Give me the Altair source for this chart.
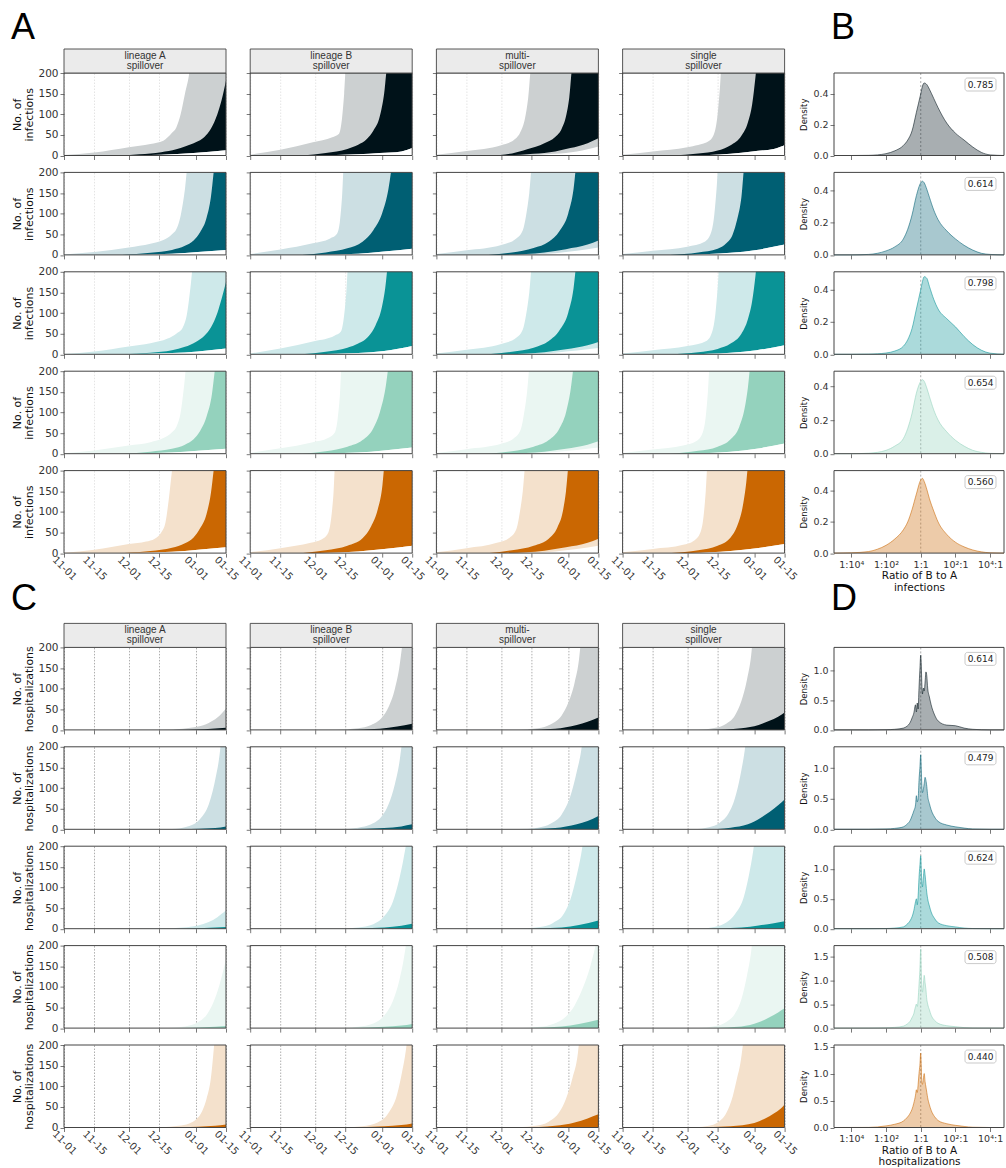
import altair as alt
import pandas as pd

# ---------------------------------------------------------------- data
ROW_DARK = ["#001219", "#005f73", "#0a9396", "#94d2bd", "#ca6702"]
ROW_LIGHT = ["#ccd0d1", "#ccdfe3", "#cee9ea", "#eaf6f2", "#f4e1cc"]
COLUMN_HEADERS = [["lineage A", "spillover"], ["lineage B", "spillover"],
                  ["multi-", "spillover"], ["single", "spillover"]]

TICK_DAYS = [0, 14, 30, 44, 61, 75]
TICK_LABELS = ["11-01", "11-15", "12-01", "12-15", "01-01", "01-15"]
COUNT_TICKS = [0, 50, 100, 150, 200]
RATIO_TICKS = [-4, -2, 0, 2, 4]
RATIO_LABELS = ["1:10⁴", "1:10²", "1:1", "10²:1", "10⁴:1"]

# infections: [day, count] points per row (colour) and column (scenario)
INF_LIGHT_TOP = [
    [[[0, 1], [14, 7], [30, 20], [40, 28], [46, 36], [50, 55], [52, 68], [54, 100], [56, 150], [58, 200], [60, 300], [75, 350]],
     [[0, 2], [14, 14], [29, 32], [38, 44], [41, 52], [42.5, 90], [43.5, 150], [44.5, 230], [75, 350]],
     [[0, 2], [14, 11], [30, 25], [36, 38], [39, 58], [41, 90], [42.5, 140], [44, 220], [75, 350]],
     [[0, 2], [14, 10], [30, 20], [40, 35], [42.5, 55], [44, 100], [45, 160], [46, 230], [75, 350]]],
    [[[0, 1], [14, 7], [30, 18], [40, 27], [46, 36], [50, 50], [52, 62], [54, 95], [56, 160], [57.5, 230], [75, 400]],
     [[0, 2], [14, 13], [29, 28], [37, 40], [40, 50], [41.5, 80], [42.5, 140], [43.5, 230], [75, 400]],
     [[0, 2], [14, 11], [30, 24], [37, 40], [40, 60], [41.5, 95], [43, 150], [44.5, 230], [75, 400]],
     [[0, 2], [14, 10], [30, 20], [38, 32], [41, 55], [42.5, 100], [43.5, 160], [44.5, 230], [75, 400]]],
    [[[0, 1], [14, 7], [30, 19], [40, 27], [48, 38], [52, 50], [55, 65], [57, 100], [58.5, 160], [60, 230], [75, 400]],
     [[0, 2], [14, 14], [30, 32], [39, 45], [42, 55], [43.5, 95], [44.5, 150], [45.5, 230], [75, 400]],
     [[0, 2], [14, 11], [30, 25], [37, 40], [40, 60], [41.5, 95], [43, 150], [44.5, 230], [75, 400]],
     [[0, 2], [14, 10], [30, 20], [39, 33], [41.5, 55], [43, 100], [44, 160], [45, 230], [75, 400]]],
    [[[0, 1], [14, 8], [30, 20], [40, 28], [46, 38], [50, 52], [52, 65], [54, 100], [55.5, 160], [57, 230], [75, 400]],
     [[0, 2], [14, 13], [29, 28], [36, 38], [39, 50], [40.5, 85], [41.5, 140], [42.5, 230], [75, 400]],
     [[0, 2], [14, 11], [30, 24], [36, 38], [39, 58], [40.5, 95], [42, 150], [43.5, 230], [75, 400]],
     [[0, 2], [14, 10], [28, 20], [34, 30], [37, 50], [38.5, 90], [39.5, 150], [40.5, 230], [75, 400]]],
    [[[0, 1], [14, 8], [30, 22], [38, 28], [42, 35], [45, 50], [47, 75], [48.5, 130], [50, 200], [51.5, 260], [75, 400]],
     [[0, 2], [14, 12], [28, 25], [33, 33], [36, 48], [37.5, 85], [38.5, 140], [39.5, 230], [75, 400]],
     [[0, 2], [14, 12], [28, 25], [34, 38], [37, 58], [38.5, 95], [40, 150], [41.5, 230], [75, 400]],
     [[0, 2], [14, 10], [28, 20], [33, 30], [36, 50], [37.5, 90], [38.5, 150], [39.5, 230], [75, 400]]],
]
INF_DARK_TOP = [
    [[[26, 0], [35, 3], [45, 8], [52, 15], [56, 22], [61, 32], [65, 45], [68, 65], [71, 100], [73, 135], [75, 182]],
     [[24, 0], [35, 6], [45, 16], [50, 26], [54, 40], [57, 60], [60, 95], [62, 150], [63.5, 220], [75, 350]],
     [[25, 0], [35, 5], [42, 15], [50, 30], [55, 45], [58, 65], [60, 95], [61.5, 140], [63, 220], [75, 350]],
     [[23, 0], [35, 5], [44, 12], [50, 25], [55, 48], [58, 80], [60, 125], [61.5, 190], [62.5, 240], [75, 350]]],
    [[[27, 0], [40, 5], [50, 12], [56, 22], [60, 35], [63, 55], [66, 90], [68, 140], [69.5, 210], [75, 400]],
     [[24, 0], [35, 6], [45, 16], [52, 32], [57, 60], [61, 100], [64, 160], [66, 230], [75, 400]],
     [[24, 0], [35, 6], [45, 17], [52, 32], [57, 58], [61, 100], [63.5, 160], [65, 230], [75, 400]],
     [[22, 0], [35, 6], [44, 15], [48, 28], [51, 50], [53, 85], [55, 140], [56.5, 220], [75, 400]]],
    [[[27, 0], [40, 4], [50, 10], [56, 18], [61, 30], [65, 45], [68, 65], [71, 100], [73, 135], [75, 175]],
     [[24, 0], [35, 6], [45, 16], [50, 26], [55, 45], [58, 70], [61, 115], [62.5, 160], [64, 230], [75, 400]],
     [[24, 0], [35, 6], [45, 16], [52, 32], [57, 58], [61, 100], [63.5, 160], [65, 230], [75, 400]],
     [[22, 0], [35, 5], [44, 13], [50, 26], [55, 50], [58, 85], [60, 130], [61.5, 190], [62.5, 240], [75, 400]]],
    [[[27, 0], [40, 5], [50, 12], [56, 22], [60, 35], [63, 55], [66, 90], [68.5, 145], [70, 210], [75, 400]],
     [[24, 0], [35, 6], [45, 17], [52, 33], [57, 62], [60, 100], [62.5, 155], [64.5, 230], [75, 400]],
     [[24, 0], [35, 6], [45, 17], [52, 33], [57, 62], [60, 100], [62, 150], [64, 230], [75, 400]],
     [[22, 0], [35, 7], [44, 17], [50, 35], [54, 65], [56.5, 110], [58, 160], [59.5, 230], [75, 400]]],
    [[[27, 0], [40, 5], [50, 13], [56, 24], [60, 38], [63, 60], [66, 95], [68, 145], [69.5, 210], [75, 400]],
     [[24, 0], [35, 7], [45, 18], [52, 36], [56, 65], [59, 105], [61, 155], [62.5, 230], [75, 400]],
     [[24, 0], [35, 7], [45, 18], [52, 35], [56, 62], [58.5, 100], [60, 150], [61.5, 230], [75, 400]],
     [[22, 0], [35, 7], [44, 18], [50, 38], [53, 65], [55.5, 110], [57, 160], [58.5, 230], [75, 400]]],
]
INF_DARK_LOW = [
    [[[26, 0], [45, 2], [60, 6], [75, 13]], [[30, 0], [50, 3], [60, 6], [70, 10], [75, 18]],
     [[30, 0], [45, 4], [55, 10], [62, 18], [70, 30], [75, 42]], [[30, 0], [50, 4], [60, 10], [70, 16], [75, 25]]],
    [[[27, 0], [50, 3], [62, 7], [75, 12]], [[30, 0], [50, 3], [62, 8], [75, 15]],
     [[30, 0], [50, 6], [60, 14], [70, 25], [75, 35]], [[30, 0], [50, 5], [62, 12], [75, 25]]],
    [[[27, 0], [50, 3], [62, 7], [75, 14]], [[30, 0], [50, 3], [62, 8], [75, 20]],
     [[30, 0], [50, 5], [60, 12], [70, 22], [75, 30]], [[30, 0], [50, 4], [62, 10], [75, 22]]],
    [[[27, 0], [50, 3], [62, 7], [75, 12]], [[30, 0], [50, 3], [62, 8], [75, 15]],
     [[30, 0], [50, 5], [60, 12], [70, 22], [75, 30]], [[30, 0], [50, 5], [62, 12], [75, 25]]],
    [[[27, 0], [50, 3], [62, 8], [75, 14]], [[30, 0], [50, 4], [62, 10], [75, 18]],
     [[30, 0], [50, 6], [60, 14], [70, 25], [75, 35]], [[30, 0], [50, 5], [62, 12], [75, 22]]],
]
INF_LIGHT_LOW = [
    [INF_DARK_LOW[0][0], INF_DARK_LOW[0][1], [[40, 0], [55, 4], [65, 10], [75, 22]], INF_DARK_LOW[0][3]],
    [INF_DARK_LOW[1][0], INF_DARK_LOW[1][1], [[40, 0], [55, 4], [65, 10], [75, 18]], INF_DARK_LOW[1][3]],
    [INF_DARK_LOW[2][0], INF_DARK_LOW[2][1], [[40, 0], [55, 4], [65, 9], [75, 15]], INF_DARK_LOW[2][3]],
    [INF_DARK_LOW[3][0], INF_DARK_LOW[3][1], [[40, 0], [55, 4], [65, 9], [75, 15]], INF_DARK_LOW[3][3]],
    [INF_DARK_LOW[4][0], INF_DARK_LOW[4][1], [[40, 0], [55, 4], [65, 10], [75, 18]], INF_DARK_LOW[4][3]],
]

# hospitalizations: [day, count]
HOSP_LIGHT_TOP = [
    [[[0, 0], [45, 0.5], [55, 3], [62, 8], [67, 17], [71, 30], [73, 40], [75, 52]],
     [[0, 0], [40, 0.5], [50, 4], [56, 12], [61, 30], [64, 55], [67, 100], [69, 150], [70.5, 210], [75, 400]],
     [[0, 0], [38, 0.5], [47, 4], [53, 14], [58, 35], [61, 65], [64, 115], [66, 170], [67, 220], [75, 400]],
     [[0, 0], [35, 0.5], [43, 5], [48, 15], [52, 35], [55, 70], [57.5, 120], [59.5, 180], [60.5, 230], [75, 400]]],
    [[[0, 0], [50, 1], [58, 8], [63, 25], [67, 60], [70, 120], [72, 180], [73, 230], [75, 400]],
     [[0, 0], [42, 0.5], [50, 4], [56, 12], [61, 32], [64, 60], [67, 110], [69, 160], [70.5, 220], [75, 400]],
     [[0, 0], [38, 0.5], [47, 4], [53, 14], [58, 36], [62, 80], [65, 140], [67, 190], [68, 230], [75, 400]],
     [[0, 0], [33, 0.5], [40, 5], [45, 16], [49, 38], [52, 75], [54.5, 130], [56.5, 190], [57.5, 230], [75, 400]]],
    [[[0, 0], [45, 0.5], [55, 3], [62, 8], [67, 16], [71, 28], [73, 36], [75, 45]],
     [[0, 0], [42, 0.5], [50, 3], [57, 11], [62, 30], [66, 65], [69, 120], [71, 170], [72.5, 220], [75, 400]],
     [[0, 0], [40, 0.5], [48, 4], [54, 14], [59, 36], [62, 70], [65, 130], [67, 180], [68.5, 230], [75, 400]],
     [[0, 0], [35, 0.5], [43, 5], [48, 15], [52, 35], [56, 75], [58.5, 130], [60.5, 190], [61.5, 230], [75, 400]]],
    [[[0, 0], [48, 0.5], [56, 4], [62, 14], [66, 32], [69, 60], [72, 105], [74, 145], [75, 165]],
     [[0, 0], [42, 0.5], [50, 3], [57, 11], [62, 30], [66, 65], [69, 115], [71, 165], [72.5, 220], [75, 400]],
     [[0, 0], [40, 0.5], [48, 3], [54, 10], [60, 28], [64, 55], [68, 100], [71, 145], [73, 185], [75, 230]],
     [[0, 0], [35, 0.5], [43, 5], [48, 15], [52, 35], [55, 70], [57.5, 125], [59.5, 185], [60.5, 230], [75, 400]]],
    [[[0, 0], [45, 0.5], [53, 4], [58, 10], [61, 19], [64, 40], [66, 70], [68, 120], [69.5, 200], [70.5, 260], [75, 400]],
     [[0, 0], [44, 0.5], [52, 3], [59, 12], [64, 35], [68, 80], [70.5, 140], [72, 185], [73, 230], [75, 400]],
     [[0, 0], [38, 0.5], [46, 4], [52, 14], [57, 38], [60, 70], [63, 120], [65.5, 180], [66.5, 230], [75, 400]],
     [[0, 0], [34, 0.5], [40, 4], [44, 12], [48, 35], [51, 76], [53, 120], [54.5, 155], [55.8, 205], [57, 260], [75, 400]]],
]
HOSP_DARK_TOP = [
    [[[50, 0], [65, 1.5], [75, 5]], [[45, 0], [60, 3], [68, 8], [75, 15]],
     [[42, 0], [55, 3], [65, 12], [70, 20], [75, 30]], [[40, 0], [55, 4], [63, 12], [68, 22], [72, 32], [75, 42]]],
    [[[55, 0], [70, 3], [75, 7]], [[45, 0], [62, 3], [70, 7], [75, 12]],
     [[42, 0], [55, 3], [65, 12], [70, 20], [75, 32]], [[38, 0], [50, 4], [58, 12], [64, 28], [68, 42], [72, 58], [75, 72]]],
    [[[50, 0], [65, 1.5], [75, 4]], [[45, 0], [62, 3], [70, 7], [75, 12]],
     [[42, 0], [58, 3], [66, 9], [75, 20]], [[40, 0], [55, 3], [63, 8], [70, 13], [75, 18]]],
    [[[52, 0], [65, 2], [75, 5]], [[45, 0], [62, 3], [70, 6], [75, 10]],
     [[42, 0], [58, 4], [66, 10], [75, 20]], [[40, 0], [55, 4], [63, 14], [68, 26], [72, 38], [75, 48]]],
    [[[48, 0], [62, 2], [70, 4], [75, 7]], [[46, 0], [62, 3], [70, 6], [75, 10]],
     [[40, 0], [55, 4], [64, 12], [70, 22], [75, 32]], [[34, 0], [50, 3], [61, 11], [66, 22], [70, 34], [73, 45], [75, 56]]],
]

# log10 ratio of lineage B to lineage A, kernel densities
INF_RATIO = [-5, -4, -3, -2.5, -2, -1.5, -1, -0.75, -0.5, -0.25, 0, 0.1, 0.2, 0.35, 0.5, 0.75, 1, 1.5, 2, 2.5, 3, 3.5, 4, 4.8]
INF_DENSITY = [
    [0, 0, 0.001, 0.004, 0.012, 0.03, 0.065, 0.1, 0.16, 0.28, 0.40, 0.45, 0.47, 0.46, 0.43, 0.37, 0.31, 0.21, 0.145, 0.1, 0.055, 0.02, 0.004, 0],
    [0, 0, 0.003, 0.01, 0.025, 0.05, 0.1, 0.16, 0.25, 0.37, 0.45, 0.46, 0.45, 0.41, 0.36, 0.28, 0.22, 0.15, 0.1, 0.06, 0.03, 0.01, 0.003, 0],
    [0, 0, 0.001, 0.003, 0.008, 0.02, 0.05, 0.09, 0.16, 0.28, 0.40, 0.45, 0.48, 0.47, 0.42, 0.34, 0.28, 0.22, 0.17, 0.11, 0.06, 0.025, 0.007, 0],
    [0, 0, 0.003, 0.008, 0.02, 0.045, 0.09, 0.15, 0.24, 0.36, 0.43, 0.44, 0.43, 0.39, 0.34, 0.26, 0.2, 0.13, 0.08, 0.045, 0.02, 0.008, 0.002, 0],
    [0, 0.002, 0.01, 0.025, 0.05, 0.09, 0.15, 0.2, 0.28, 0.38, 0.47, 0.48, 0.46, 0.41, 0.35, 0.27, 0.2, 0.12, 0.07, 0.04, 0.02, 0.008, 0.002, 0],
]
INF_OVERLAP = ["0.785", "0.614", "0.798", "0.654", "0.560"]
INF_DENSITY_TOP = [0.535, 0.515, 0.51, 0.49, 0.53]

HOSP_RATIO = [-5, -3, -2, -1.5, -1, -0.8, -0.6, -0.5, -0.4, -0.3, -0.25, -0.2, -0.15, -0.1, -0.05, 0, 0.03, 0.06,
              0.1, 0.15, 0.2, 0.25, 0.3, 0.35, 0.4, 0.5, 0.6, 0.8, 1, 1.5, 2, 2.5, 3, 4, 4.8]
HOSP_DENSITY = [
    [0, 0, 0.003, 0.01, 0.03, 0.06, 0.13, 0.2, 0.28, 0.42, 0.3, 0.45, 0.35, 0.7, 1.0, 1.25, 1.1, 0.8, 0.6, 0.7, 0.65, 0.8, 0.97, 0.9, 0.7, 0.55, 0.42, 0.25, 0.15, 0.08, 0.07, 0.03, 0.01, 0, 0],
    [0, 0, 0.005, 0.015, 0.04, 0.08, 0.15, 0.22, 0.3, 0.4, 0.55, 0.45, 0.5, 0.8, 1.0, 1.22, 1.0, 0.75, 0.6, 0.65, 0.75, 0.85, 0.8, 0.7, 0.55, 0.42, 0.32, 0.2, 0.13, 0.07, 0.04, 0.02, 0.005, 0, 0],
    [0, 0, 0.003, 0.01, 0.03, 0.07, 0.14, 0.2, 0.3, 0.45, 0.5, 0.4, 0.55, 0.85, 1.05, 1.22, 1.0, 0.8, 0.7, 0.85, 1.0, 0.9, 0.75, 0.6, 0.5, 0.38, 0.28, 0.17, 0.1, 0.05, 0.03, 0.01, 0.003, 0, 0],
    [0, 0, 0.005, 0.015, 0.04, 0.08, 0.15, 0.22, 0.3, 0.45, 0.5, 0.45, 0.6, 0.9, 1.2, 1.65, 1.2, 0.9, 0.75, 0.9, 1.1, 0.95, 0.8, 0.6, 0.5, 0.38, 0.27, 0.16, 0.1, 0.05, 0.03, 0.01, 0.003, 0, 0],
    [0, 0.002, 0.03, 0.06, 0.12, 0.18, 0.27, 0.34, 0.45, 0.6, 0.7, 0.65, 0.8, 1.0, 1.15, 1.38, 1.15, 0.85, 0.8, 0.9, 1.0, 0.85, 0.75, 0.65, 0.55, 0.42, 0.32, 0.2, 0.13, 0.07, 0.04, 0.02, 0.005, 0, 0],
]
HOSP_OVERLAP = ["0.614", "0.479", "0.624", "0.508", "0.440"]
HOSP_DENSITY_TOP = [1.38, 1.35, 1.38, 1.72, 1.53]
HOSP_DENSITY_TICKS = [[0, 0.5, 1.0], [0, 0.5, 1.0], [0, 0.5, 1.0], [0, 0.5, 1.0, 1.5], [0, 0.5, 1.0, 1.5]]

# ---------------------------------------------------------------- layout
W_TS, H = 162, 82.5
W_DEN = 170
W_GAP_COL = 1                  # narrow empty column before the density panels
COL_GAP, ROW_GAP = 24.2, 16.4
SECTION_SPACER = 60.9          # extra row between the infection and hospitalization blocks
TEXT_FONT = "DejaVu Sans"
HEAD_FONT = "Liberation Sans"


def label_expr(values, labels):
    expr = "''"
    for v, lab in reversed(list(zip(values, labels))):
        expr = f"datum.value == {v} ? '{lab}' : ({expr})"
    return expr


DAY_EXPR = label_expr(TICK_DAYS, TICK_LABELS)
RATIO_EXPR = label_expr(RATIO_TICKS, RATIO_LABELS)
ONE = pd.DataFrame({"k": [0]})


def curve(points):
    return pd.DataFrame(points, columns=["day", "value"])


def frame(width):
    return alt.Chart(ONE).mark_rect(fillOpacity=0, stroke="#444", strokeWidth=1).encode(
        x=alt.value(0), x2=alt.value(width), y=alt.value(0), y2=alt.value(H))


def letter(text, dx, dy):
    return alt.Chart(ONE).mark_text(text=text, font=HEAD_FONT, fontSize=36, align="left",
                                    baseline="alphabetic", color="black").encode(
        x=alt.value(dx), y=alt.value(dy))


def spacer(width, height):
    return alt.Chart(ONE).mark_rect(color="white").encode(
        x=alt.value(0), x2=alt.value(1), y=alt.value(0), y2=alt.value(1)).properties(width=width, height=height)


def header_cells(lines):
    box = alt.Chart(ONE).mark_rect(fill="#ebebeb", stroke="#444", strokeWidth=0.9).encode(
        x=alt.value(0), x2=alt.value(W_TS), y=alt.value(-24), y2=alt.value(0))
    top = alt.Chart(ONE).mark_text(text=lines[0], font=HEAD_FONT, fontSize=10, color="#333",
                                   baseline="middle").encode(x=alt.value(W_TS / 2), y=alt.value(-17))
    bottom = alt.Chart(ONE).mark_text(text=lines[1], font=HEAD_FONT, fontSize=10, color="#333",
                                      baseline="middle").encode(x=alt.value(W_TS / 2), y=alt.value(-7.5))
    return [box, top, bottom]


def series_panel(curves, colors, col, last_row, y_title, grid_color, header=None, extra=()):
    x_axis = alt.Axis(values=TICK_DAYS, labelExpr=DAY_EXPR, labels=last_row, labelAngle=45,
                      labelAlign="center", labelBaseline="middle", labelPadding=11,
                      labelFont=TEXT_FONT, labelFontSize=10, labelColor="#333", labelOverlap=False,
                      tickSize=4, tickColor="#555", tickWidth=0.8, domain=False, grid=True,
                      gridColor=grid_color, gridDash=[1.5, 1.5], gridWidth=0.8, title=None)
    y_axis = alt.Axis(values=COUNT_TICKS, labels=(col == 0), labelFont=TEXT_FONT, labelFontSize=10.5,
                      labelColor="#333", labelPadding=2, tickSize=4, tickColor="#555", tickWidth=0.8,
                      domain=False, grid=False, title=(y_title if col == 0 else None),
                      titleFont=TEXT_FONT, titleFontSize=11, titleFontWeight="normal",
                      titleColor="#111", titlePadding=3, titleLineHeight=12)
    x = alt.X("day:Q", scale=alt.Scale(domain=[0, 75], nice=False, zero=False), axis=x_axis)
    y = alt.Y("value:Q", scale=alt.Scale(domain=[0, 200], nice=False), axis=y_axis)
    layers = [alt.Chart(curve(pts)).mark_area(color=c, interpolate="monotone", clip=True).encode(x=x, y=y)
              for pts, c in zip(curves, colors)]
    layers.append(frame(W_TS))
    if header is not None:
        layers.extend(header_cells(header))
    layers.extend(extra)
    return alt.layer(*layers).properties(width=W_TS, height=H)


def density_panel(ratio, dens, color, ymax, yticks, overlap, last_row, x_title, extra=()):
    df = pd.DataFrame({"ratio": ratio, "density": dens})
    x_axis = alt.Axis(values=RATIO_TICKS, labelExpr=RATIO_EXPR, labels=last_row, labelFont=TEXT_FONT,
                      labelFontSize=9.5, labelColor="#333", labelPadding=2, tickSize=4, tickColor="#555",
                      tickWidth=0.8, domain=False, grid=False, title=(x_title if last_row else None),
                      titleFont=TEXT_FONT, titleFontSize=10.5, titleFontWeight="normal", titleColor="#111",
                      titlePadding=2, titleLineHeight=11.5)
    y_axis = alt.Axis(values=yticks, format=".1f", labelFont=TEXT_FONT, labelFontSize=9.5, labelColor="#333",
                      labelPadding=2, tickSize=4, tickColor="#555", tickWidth=0.8, domain=False, grid=False,
                      title="Density", titleFont=TEXT_FONT, titleFontSize=8.5, titleFontWeight="normal",
                      titleColor="#111", titlePadding=4)
    x = alt.X("ratio:Q", scale=alt.Scale(domain=[-5, 4.8], nice=False, zero=False), axis=x_axis)
    y = alt.Y("density:Q", scale=alt.Scale(domain=[0, ymax], nice=False), axis=y_axis)
    area = alt.Chart(df).mark_area(color=color, opacity=0.34, interpolate="monotone").encode(x=x, y=y)
    line = alt.Chart(df).mark_line(color=color, strokeWidth=0.7, opacity=0.8, interpolate="monotone").encode(x=x, y=y)
    unity = alt.Chart(pd.DataFrame({"ratio": [0]})).mark_rule(color="#999", strokeDash=[2, 2], strokeWidth=0.8).encode(
        x=x, y=alt.value(0), y2=alt.value(H))
    box = alt.Chart(ONE).mark_rect(fill="white", stroke="#bbb", strokeWidth=0.8, cornerRadius=2.5).encode(
        x=alt.value(W_DEN - 39), x2=alt.value(W_DEN - 8), y=alt.value(5), y2=alt.value(18))
    txt = alt.Chart(ONE).mark_text(text=overlap, font=TEXT_FONT, fontSize=9, color="#222",
                                   baseline="middle", align="center").encode(
        x=alt.value(W_DEN - 23.5), y=alt.value(11.5))
    return alt.layer(unity, area, line, frame(W_DEN), box, txt, *extra).properties(width=W_DEN, height=H)


def section_cells(light_top, dark_top, dark_low, light_low, y_title, grid_color, ratio, dens, dens_top,
                  dens_ticks, overlap, x_title, letters):
    cells = []
    for r in range(5):
        for c in range(4):
            if dark_low is not None:
                curves = [light_top[r][c], dark_top[r][c], dark_low[r][c], light_low[r][c]]
                colors = [ROW_LIGHT[r], ROW_DARK[r], ROW_LIGHT[r], "white"]
            else:
                curves = [light_top[r][c], dark_top[r][c]]
                colors = [ROW_LIGHT[r], ROW_DARK[r]]
            extra = letters[0] if (r == 0 and c == 0) else ()
            cells.append(series_panel(curves, colors, c, r == 4, y_title, grid_color,
                                      header=COLUMN_HEADERS[c] if r == 0 else None, extra=extra))
        cells.append(spacer(W_GAP_COL, H))
        cells.append(density_panel(ratio, dens[r], ROW_DARK[r], dens_top[r], dens_ticks[r], overlap[r],
                                   r == 4, x_title, extra=letters[1] if r == 0 else ()))
    return cells


# white 1-px corner marker fixes the figure's top-left corner
corner = alt.Chart(ONE).mark_rect(color="white").encode(
    x=alt.value(-63), x2=alt.value(-62), y=alt.value(-72), y2=alt.value(-71))

cells = section_cells(INF_LIGHT_TOP, INF_DARK_TOP, INF_DARK_LOW, INF_LIGHT_LOW, ["No. of", "infections"],
                      "#dddddd", INF_RATIO, INF_DENSITY, INF_DENSITY_TOP, [[0, 0.2, 0.4]] * 5, INF_OVERLAP,
                      ["Ratio of B to A", "infections"],
                      [(corner, letter("A", -53, -34)), (letter("B", -3, -34),)])
cells += [spacer(W_TS, SECTION_SPACER) for _ in range(4)]
cells += [spacer(W_GAP_COL, SECTION_SPACER), spacer(W_DEN, SECTION_SPACER)]
cells += section_cells(HOSP_LIGHT_TOP, HOSP_DARK_TOP, None, None, ["No. of", "hospitalizations"],
                       "#999999", HOSP_RATIO, HOSP_DENSITY, HOSP_DENSITY_TOP, HOSP_DENSITY_TICKS, HOSP_OVERLAP,
                       ["Ratio of B to A", "hospitalizations"],
                       [(letter("C", -53, -37),), (letter("D", -3, -37),)])

chart = alt.concat(*cells, columns=6, spacing={"row": ROW_GAP, "column": COL_GAP}, bounds="flush").properties(
    padding=0, background="white"
).configure_view(stroke="transparent")

chart.save("out.html", embed_options={"renderer": "svg", "actions": False})
